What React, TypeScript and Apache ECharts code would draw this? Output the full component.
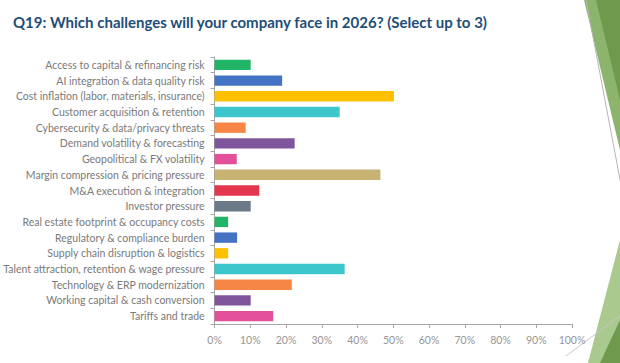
import React, { useEffect, useRef } from "react";
import * as echarts from "echarts";

const titleText = "Q19: Which challenges will your company face in 2026? (Select up to 3)";

const categories = [
  "Access to capital & refinancing risk",
  "AI integration & data quality risk",
  "Cost inflation (labor, materials, insurance)",
  "Customer acquisition & retention",
  "Cybersecurity & data/privacy threats",
  "Demand volatility & forecasting",
  "Geopolitical & FX volatility",
  "Margin compression & pricing pressure",
  "M&A execution & integration",
  "Investor pressure",
  "Real estate footprint & occupancy costs",
  "Regulatory & compliance burden",
  "Supply chain disruption & logistics",
  "Talent attraction, retention & wage pressure",
  "Technology & ERP modernization",
  "Working capital & cash conversion",
  "Tariffs and trade",
];

const values = [10.1, 18.9, 50.2, 35.0, 8.7, 22.4, 6.2, 46.4, 12.5, 10.1, 3.8, 6.3, 3.8, 36.4, 21.6, 10.1, 16.4];

const barColors = [
  "#22b567", "#4472c4", "#ffc000", "#3ec6cd", "#f58646", "#7f559c", "#e2509a", "#c8b274", "#e5364f",
  "#6a7a88", "#22b567", "#4472c4", "#ffc000", "#3ec6cd", "#f58646", "#7f559c", "#e2509a",
];

export default function App() {
  const ref = useRef<HTMLDivElement>(null);
  useEffect(() => {
    if (!ref.current) return;
    const chart = echarts.init(ref.current, null, { renderer: "svg" });
    const font = "Lato";
    chart.setOption({
      animation: false,
      backgroundColor: "#ffffff",
      title: {
        text: titleText,
        left: 8,
        top: 9,
        textStyle: { fontFamily: font, fontSize: 15, fontWeight: "bold", color: "#1f4e79" },
      },
      grid: { left: 210, right: 48, top: 57, bottom: 39, containLabel: false },
      xAxis: {
        type: "value",
        min: 0,
        max: 100,
        interval: 10,
        axisLabel: { formatter: "{value}%", color: "#969696", fontFamily: font, fontSize: 10.5, margin: 10 },
        axisLine: { show: true, lineStyle: { color: "#a6a6a6" } },
        axisTick: { show: true, length: 4, lineStyle: { color: "#a6a6a6" } },
        splitLine: { show: false },
      },
      yAxis: {
        type: "category",
        inverse: true,
        data: categories,
        axisLabel: { color: "#7a7a7a", fontFamily: font, fontSize: 10.5, margin: 10 },
        axisLine: { show: true, lineStyle: { color: "#a6a6a6" } },
        axisTick: { show: true, length: 4, alignWithLabel: false, lineStyle: { color: "#a6a6a6" } },
      },
      series: [
        {
          type: "bar",
          barWidth: "66%",
          data: values.map((v, i) => ({ value: v, itemStyle: { color: barColors[i] } })),
        },
      ],
      graphic: [
        { type: "polygon", shape: { points: [[584, 0], [620, 0], [620, 150]] }, style: { fill: "#8db46c" } },
        { type: "polygon", shape: { points: [[596, 0], [620, 0], [620, 100]] }, style: { fill: "#6f9a4e" } },
        { type: "line", shape: { x1: 586, y1: 0, x2: 622, y2: 190 }, style: { stroke: "#b5b5b5", lineWidth: 1 } },
        { type: "polygon", shape: { points: [[620, 240], [620, 363], [588, 363]] }, style: { fill: "#a9c98f" } },
        { type: "polygon", shape: { points: [[620, 320], [620, 363], [600, 363]] }, style: { fill: "#6f9a4e" } },
        { type: "line", shape: { x1: 566, y1: 356, x2: 620, y2: 316 }, style: { stroke: "#c8c8c8", lineWidth: 1 } },
      ],
    });
    return () => chart.dispose();
  }, []);
  return <div ref={ref} style={{ width: 620, height: 363, position: "absolute", left: 0, top: 0 }} />;
}
